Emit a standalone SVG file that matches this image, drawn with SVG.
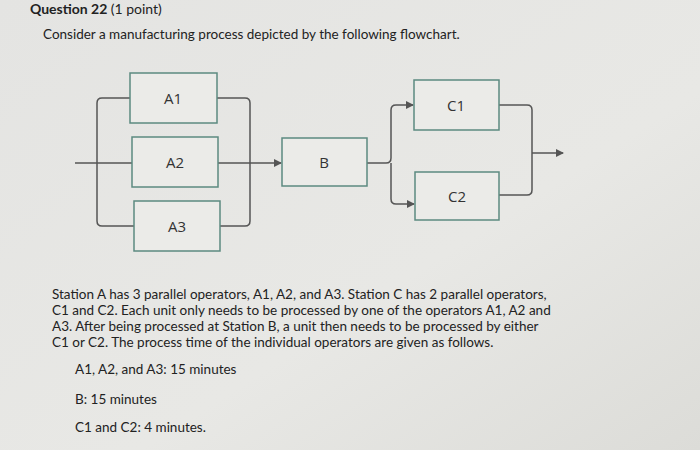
<svg xmlns="http://www.w3.org/2000/svg" width="700" height="450" viewBox="0 0 700 450">
<defs>
<marker id="ar" markerWidth="8" markerHeight="8" refX="7" refY="4" orient="auto" markerUnits="userSpaceOnUse"><path d="M0,0 L8,4 L0,8 Z" fill="#555"/></marker>
<linearGradient id="bg" x1="0" y1="0" x2="1" y2="1"><stop offset="0" stop-color="#e4e4e2"/><stop offset="0.6" stop-color="#e8e8e5"/><stop offset="1" stop-color="#dcdcd8"/></linearGradient>
</defs>
<style>
.box{fill:#ebebe8;stroke:#5c8a80;stroke-width:1.5}
.lbl{font-family:"Open Sans","Liberation Sans",sans-serif;font-size:15px;fill:#333;text-anchor:middle}
.ln{fill:none;stroke:#555;stroke-width:1.5}
.t{font-family:Lato,"Liberation Sans",sans-serif;font-size:13.5px;fill:#222}
</style>
<rect width="700" height="450" fill="url(#bg)"/>
<text x="30" y="14" class="t" style="font-weight:bold;font-size:14px">Question 22 <tspan font-weight="normal">(1 point)</tspan></text>
<text x="43" y="39" class="t">Consider a manufacturing process depicted by the following flowchart.</text>
<g id="connectors">
<path class="ln" d="M75,163 H132"/>
<path class="ln" d="M130,98 H102 Q97,98 97,103 V221 Q97,226 102,226 H134"/>
<path class="ln" d="M217,98 H245 Q250,98 250,103 V221 Q250,226 245,226 H220"/>
<path class="ln" marker-end="url(#ar)" d="M218,163 H281"/>
<path class="ln" d="M367,163 H386 Q391,163 391,158"/>
<path class="ln" marker-end="url(#ar)" d="M391,158 V110 Q391,105 396,105 H413"/>
<path class="ln" marker-end="url(#ar)" d="M391,163 V199 Q391,204 396,204 H414"/>
<path class="ln" d="M499,105 H527 Q532,105 532,110 V190 Q532,195 527,195 H499"/>
<path class="ln" marker-end="url(#ar)" d="M532,153 H563"/>
</g>
<g id="A1"><rect class="box" x="130" y="73" width="87" height="50"/><text class="lbl" x="173" y="104">A1</text></g>
<g id="A2"><rect class="box" x="132" y="137" width="86" height="50"/><text class="lbl" x="175" y="168">A2</text></g>
<g id="A3"><rect class="box" x="134" y="201" width="86" height="50"/><text class="lbl" x="177" y="232">A3</text></g>
<g id="B"><rect class="box" x="282" y="138" width="85" height="48"/><text class="lbl" x="324" y="168">B</text></g>
<g id="C1"><rect class="box" x="414" y="80" width="85" height="50"/><text class="lbl" x="456" y="111">C1</text></g>
<g id="C2"><rect class="box" x="415" y="172" width="84" height="48"/><text class="lbl" x="457" y="202">C2</text></g>
<text x="52" y="299" class="t">Station A has 3 parallel operators, A1, A2, and A3. Station C has 2 parallel operators,</text>
<text x="52" y="315" class="t">C1 and C2. Each unit only needs to be processed by one of the operators A1, A2 and</text>
<text x="52" y="331" class="t">A3. After being processed at Station B, a unit then needs to be processed by either</text>
<text x="52" y="347" class="t">C1 or C2. The process time of the individual operators are given as follows.</text>
<text x="75" y="374" class="t">A1, A2, and A3: 15 minutes</text>
<text x="75" y="404" class="t">B: 15 minutes</text>
<text x="75" y="432" class="t">C1 and C2: 4 minutes.</text>
</svg>
